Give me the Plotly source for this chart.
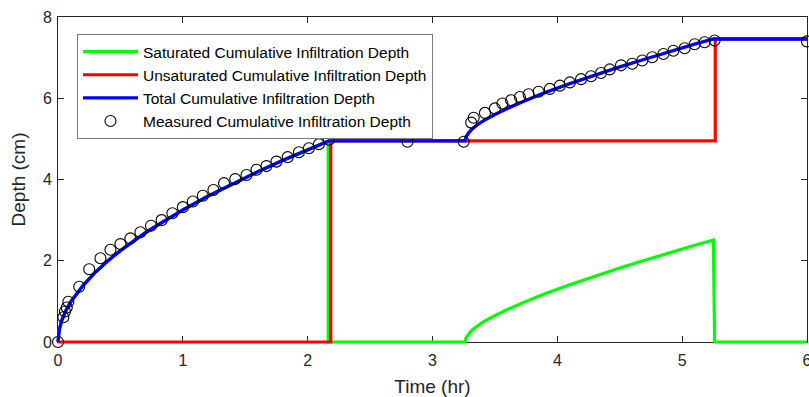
import plotly.graph_objects as go

# ---- data ----
t_total = [0, 0.01, 0.03, 0.06, 0.1, 0.15, 0.2, 0.3, 0.4, 0.5, 0.6, 0.7, 0.8, 0.9, 1.0,
           1.2, 1.4, 1.6, 1.8, 2.0, 2.17, 3.26, 3.27, 3.29, 3.32, 3.36, 3.41, 3.5, 3.6,
           3.75, 3.9, 4.1, 4.3, 4.5, 4.7, 4.9, 5.1, 5.25, 6.0]
d_total = [0, 0.30, 0.53, 0.75, 0.98, 1.20, 1.39, 1.72, 2.00, 2.25, 2.48, 2.69, 2.88, 3.07, 3.25,
           3.59, 3.90, 4.19, 4.47, 4.74, 4.95, 4.95, 5.06, 5.15, 5.25, 5.35, 5.45, 5.60, 5.75,
           5.95, 6.14, 6.36, 6.57, 6.77, 6.96, 7.15, 7.33, 7.46, 7.46]

t_sat = [0, 0.01, 0.03, 0.06, 0.1, 0.15, 0.2, 0.3, 0.4, 0.5, 0.6, 0.7, 0.8, 0.9, 1.0,
         1.2, 1.4, 1.6, 1.8, 2.0, 2.165, 2.165, 3.26, 3.27, 3.29, 3.32, 3.36, 3.41, 3.5, 3.6,
         3.75, 3.9, 4.1, 4.3, 4.5, 4.7, 4.9, 5.1, 5.25, 5.26, 6.0]
d_sat = [0, 0.30, 0.53, 0.75, 0.98, 1.20, 1.39, 1.72, 2.00, 2.25, 2.48, 2.69, 2.88, 3.07, 3.25,
         3.59, 3.90, 4.19, 4.47, 4.74, 4.95, 0, 0, 0.11, 0.20, 0.30, 0.40, 0.50, 0.65, 0.80,
         1.00, 1.19, 1.41, 1.62, 1.82, 2.01, 2.20, 2.38, 2.51, 0, 0]

t_unsat = [0, 2.185, 2.185, 5.265, 5.265, 6.0]
d_unsat = [0, 0, 4.95, 4.95, 7.46, 7.46]

t_meas = [0, 0.043, 0.056, 0.07, 0.083, 0.17, 0.25, 0.34, 0.42, 0.50, 0.58, 0.66, 0.745, 0.83,
          0.916, 1.0, 1.08, 1.16, 1.245, 1.33, 1.42, 1.51, 1.59, 1.67, 1.75, 1.84, 1.93, 2.01,
          2.09, 2.17, 2.80, 3.25, 3.31, 3.33, 3.42, 3.50, 3.56, 3.63, 3.70, 3.77, 3.85, 3.94,
          4.02, 4.10, 4.19, 4.27, 4.35, 4.42, 4.51, 4.60, 4.68, 4.76, 4.85, 4.93, 5.02, 5.10,
          5.18, 5.26, 6.0]
d_meas = [0, 0.61, 0.75, 0.85, 0.99, 1.36, 1.79, 2.06, 2.27, 2.41, 2.55, 2.70, 2.86, 3.00,
          3.17, 3.32, 3.46, 3.60, 3.74, 3.91, 4.01, 4.11, 4.24, 4.33, 4.44, 4.55, 4.67, 4.77,
          4.87, 4.98, 4.93, 4.93, 5.40, 5.52, 5.64, 5.75, 5.87, 5.95, 6.03, 6.10, 6.16, 6.23,
          6.31, 6.39, 6.47, 6.54, 6.62, 6.71, 6.81, 6.85, 6.93, 7.01, 7.09, 7.17, 7.23, 7.33,
          7.38, 7.42, 7.40]

x_ticks = [0, 1, 2, 3, 4, 5, 6]
y_ticks = [0, 2, 4, 6, 8]

FONT = "Liberation Sans, Arial, sans-serif"
AX = "#262626"

fig = go.Figure()
# empty trace so the framed x/y subplot (box, ticks, labels) is drawn
fig.add_trace(go.Scatter(x=[], y=[], mode="lines", showlegend=False, hoverinfo="skip",
                         xaxis="x", yaxis="y"))
fig.add_trace(go.Scatter(x=t_sat, y=d_sat, mode="lines", name="Saturated Cumulative Infiltration Depth",
                         line=dict(color="#00ff00", width=3.2), xaxis="x2", yaxis="y2"))
fig.add_trace(go.Scatter(x=t_unsat, y=d_unsat, mode="lines", name="Unsaturated Cumulative Infiltration Depth",
                         line=dict(color="#ff0000", width=3.2), xaxis="x2", yaxis="y2"))
fig.add_trace(go.Scatter(x=t_total, y=d_total, mode="lines", name="Total Cumulative Infiltration Depth",
                         line=dict(color="#0000ff", width=3.4), xaxis="x2", yaxis="y2"))
fig.add_trace(go.Scatter(x=t_meas, y=d_meas, mode="markers", name="Measured Cumulative Infiltration Depth",
                         marker=dict(symbol="circle-open", size=11, color="#000000", line=dict(width=1.1)),
                         cliponaxis=False, xaxis="x2", yaxis="y2"))

W, H = 809, 397
ml, mr, mt, mb = 56, 0, 15, 53
pw, ph = W - ml - mr, H - mt - mb
pad = 2
ppx = (pw - 2 * pad) / 6.0
ppy = (ph - 2 * pad) / 8.0

axis_common = dict(showline=True, linecolor=AX, linewidth=1, mirror="ticks", ticks="inside",
                   ticklen=6, tickcolor=AX, tickwidth=1, showgrid=False, zeroline=False,
                   ticklabeloverflow="allow", automargin=False,
                   tickfont=dict(family=FONT, size=16, color=AX))

fig.update_layout(
    width=W, height=H,
    margin=dict(l=ml, r=mr, t=mt, b=mb, pad=0, autoexpand=False),
    paper_bgcolor="white", plot_bgcolor="rgba(0,0,0,0)",
    font=dict(family=FONT, color=AX),
    xaxis=dict(domain=[pad / pw, 1 - pad / pw], range=[0, 6], tickvals=x_ticks, anchor="y",
               ticklabelstandoff=4,
               title=dict(text="Time (hr)", font=dict(family=FONT, size=19, color=AX), standoff=12),
               **axis_common),
    yaxis=dict(domain=[pad / ph, 1 - pad / ph], range=[0, 8], tickvals=y_ticks, anchor="x",
               ticklabelstandoff=2,
               title=dict(text="Depth (cm)", font=dict(family=FONT, size=19, color=AX), standoff=12),
               **axis_common),
    xaxis2=dict(domain=[0, 1], range=[-pad / ppx, 6 + pad / ppx], anchor="y2", visible=False),
    yaxis2=dict(domain=[0, 1], range=[-pad / ppy, 8 + pad / ppy], anchor="x2", visible=False),
    legend=dict(x=(77 - ml) / pw, y=(H - mb - 34) / ph, xanchor="left", yanchor="top",
                bgcolor="white", bordercolor="#7a7a7a", borderwidth=1, itemwidth=55,
                font=dict(family=FONT, size=15.5, color="#000000"), tracegroupgap=0),
    showlegend=True,
)

fig.write_html("out.html")
